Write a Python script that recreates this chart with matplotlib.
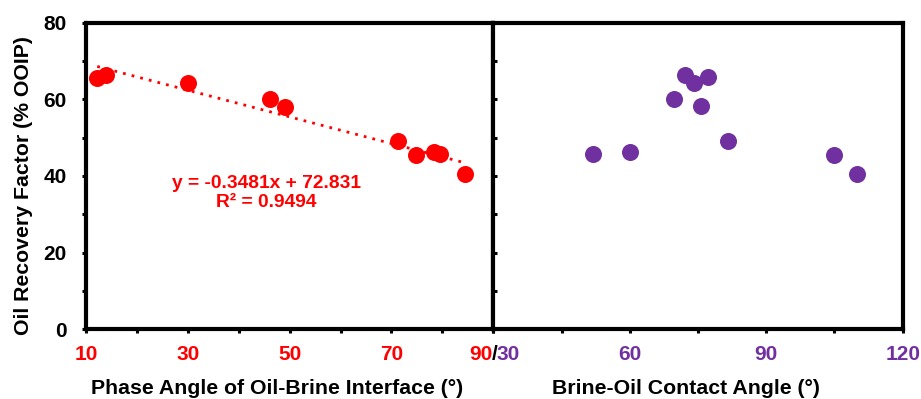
import matplotlib
matplotlib.use("Agg")
import matplotlib.pyplot as plt
import matplotlib.transforms as mtransforms
import numpy as np
from matplotlib.ticker import MultipleLocator

# Phase angle of oil-brine interface (deg) vs oil recovery (% OOIP)
phase_angle = [12.2, 13.9, 30.0, 46.2, 49.1, 71.3, 74.8, 78.4, 79.6, 84.4]
recovery_phase = [65.7, 66.4, 64.2, 60.1, 58.1, 49.1, 45.4, 46.3, 45.7, 40.4]

# Brine-oil contact angle (deg) vs oil recovery (% OOIP)
contact_angle = [52.0, 60.0, 69.8, 72.1, 74.1, 75.6, 77.2, 81.5, 105.0, 109.9]
recovery_contact = [45.8, 46.2, 60.2, 66.4, 64.3, 58.2, 65.9, 49.2, 45.4, 40.4]

# linear trend shown on the left panel
slope = -0.3481
intercept = 72.831
r_squared = 0.9494

left_ticks = [10, 30, 50, 70, 90]
right_ticks = [30, 60, 90, 120]
y_ticks = [0, 20, 40, 60, 80]

RED = '#FF0000'
PURPLE = '#7030A0'
TICK_FS = 15
LABEL_FS = 15.3
plt.rcParams['font.family'] = ['Liberation Sans', 'DejaVu Sans']
plt.rcParams['font.weight'] = 'bold'

fig = plt.figure(figsize=(9.21, 3.99), dpi=100)
ax1 = fig.add_axes([0.0934, 0.1747, 0.4422, 0.7684])
ax2 = fig.add_axes([0.5356, 0.1747, 0.4445, 0.7684])

for ax in (ax1, ax2):
    for s in ax.spines.values():
        s.set_linewidth(3.0)
    ax.set_ylim(0, 80)
    ax.yaxis.set_major_locator(MultipleLocator(20))
    ax.yaxis.set_minor_locator(MultipleLocator(10))
    ax.tick_params(which='both', width=2.2, length=3)

# ---- left panel ----
ax1.scatter(phase_angle, recovery_phase, s=150, color=RED, zorder=3, linewidths=0)
xfit = np.array([min(phase_angle), max(phase_angle)])
ax1.plot(xfit, slope * xfit + intercept, color=RED, lw=2.0,
         linestyle=(0, (1, 2.2)), zorder=2)
ax1.text(0.442, 0.445, f"y = {slope}x + {intercept}\nR\u00b2 = {r_squared}",
         transform=ax1.transAxes, ha='center', va='center', color=RED,
         fontsize=13.8, fontweight='bold', linespacing=1.17)
ax1.set_xlim(10, 90)
ax1.set_xticks(left_ticks)
ax1.set_xticklabels([str(t) for t in left_ticks[:-1]] + [''])
ax1.xaxis.set_minor_locator(MultipleLocator(10))
ax1.set_yticks(y_ticks)
ax1.tick_params(axis='y', which='both', direction='out', left=True, right=False,
                pad=11, labelsize=TICK_FS)
ax1.tick_params(axis='x', which='both', direction='out', pad=8,
                labelsize=TICK_FS, labelcolor=RED)
for lab in ax1.get_xticklabels() + ax1.get_yticklabels():
    lab.set_fontweight('bold')
ax1.set_ylabel('Oil Recovery Factor (% OOIP)', fontsize=LABEL_FS, fontweight='bold')
ax1.set_xlabel('Phase Angle of Oil-Brine Interface (\u00b0)', fontsize=LABEL_FS,
               fontweight='bold')
ax1.xaxis.set_label_coords(0.47, -0.163)
ax1.yaxis.set_label_coords(-0.13, 0.47)

# ---- right panel ----
ax2.scatter(contact_angle, recovery_contact, s=150, color=PURPLE, zorder=3, linewidths=0)
ax2.set_xlim(30, 120)
ax2.set_xticks(right_ticks)
ax2.set_xticklabels([''] + [str(t) for t in right_ticks[1:]])
ax2.xaxis.set_minor_locator(MultipleLocator(15))
ax2.tick_params(axis='y', which='both', direction='in', left=True, labelleft=False)
ax2.tick_params(axis='x', which='both', direction='out', pad=8,
                labelsize=TICK_FS, labelcolor=PURPLE)
for lab in ax2.get_xticklabels():
    lab.set_fontweight('bold')
ax2.set_xlabel('Brine-Oil Contact Angle (\u00b0)', fontsize=LABEL_FS,
               fontweight='bold')
ax2.xaxis.set_label_coords(0.47, -0.163)

# shared "90/30" label at the panel boundary
base = mtransforms.offset_copy(ax1.get_xaxis_transform(), fig=fig, x=0, y=-11, units='points')
ax1.text(90, 0, '90', transform=mtransforms.offset_copy(base, fig=fig, x=-0.6, y=0, units='points'),
         ha='right', va='top', color=RED, fontsize=TICK_FS, fontweight='bold', clip_on=False)
ax1.text(90, 0, '/', transform=mtransforms.offset_copy(base, fig=fig, x=1.2, y=0, units='points'),
         ha='center', va='top', color='black', fontsize=TICK_FS, fontweight='bold', clip_on=False)
ax1.text(90, 0, '30', transform=mtransforms.offset_copy(base, fig=fig, x=2.6, y=0, units='points'),
         ha='left', va='top', color=PURPLE, fontsize=TICK_FS, fontweight='bold', clip_on=False)

fig.savefig('out.png', dpi=100)
